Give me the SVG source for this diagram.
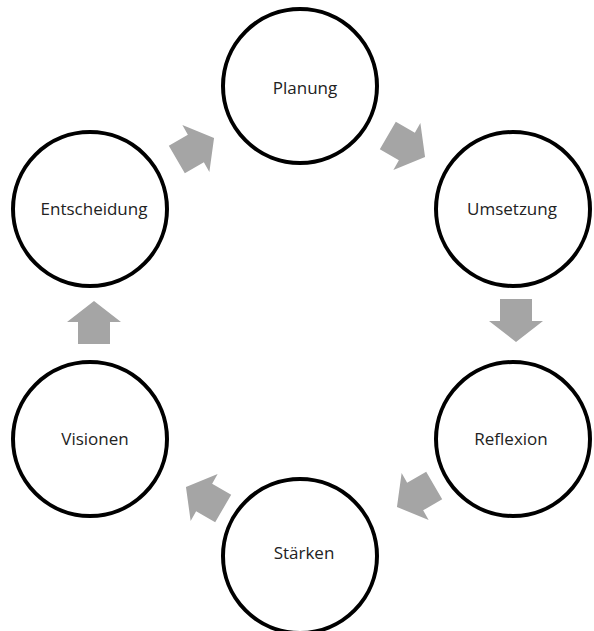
<svg xmlns="http://www.w3.org/2000/svg" width="594" height="631" viewBox="0 0 594 631">
<defs>
<style>
.c{fill:#fff;stroke:#000;stroke-width:4}
.t{font-family:"Open Sans","Noto Sans",sans-serif;font-size:17px;fill:#222;text-anchor:middle}
.a{fill:#a5a5a5}
</style>
<path id="arr" d="M-21,-16 H1 V-27 L22,0 L1,27 V16 H-21 Z"/>
</defs>
<rect width="594" height="631" fill="#fff"/>
<g id="connectors">
<use href="#arr" class="a" transform="translate(195,149) rotate(-30)"/>
<use href="#arr" class="a" transform="translate(406,146) rotate(30)"/>
<use href="#arr" class="a" transform="translate(516,320) rotate(90)"/>
<use href="#arr" class="a" transform="translate(416,496) rotate(150)"/>
<use href="#arr" class="a" transform="translate(205,498) rotate(210)"/>
<use href="#arr" class="a" transform="translate(94,323) rotate(-90)"/>
</g>
<g id="planung"><circle class="c" cx="300" cy="86" r="77"/><text class="t" x="305" y="94">Planung</text></g>
<g id="umsetzung"><circle class="c" cx="513" cy="209" r="77"/><text class="t" x="512" y="215">Umsetzung</text></g>
<g id="reflexion"><circle class="c" cx="513" cy="439" r="77"/><text class="t" x="511" y="445">Reflexion</text></g>
<g id="staerken"><circle class="c" cx="300" cy="556" r="77"/><text class="t" x="304" y="559">Stärken</text></g>
<g id="visionen"><circle class="c" cx="90" cy="439" r="77"/><text class="t" x="95" y="445">Visionen</text></g>
<g id="entscheidung"><circle class="c" cx="90" cy="209" r="77"/><text class="t" x="94" y="215">Entscheidung</text></g>
</svg>
